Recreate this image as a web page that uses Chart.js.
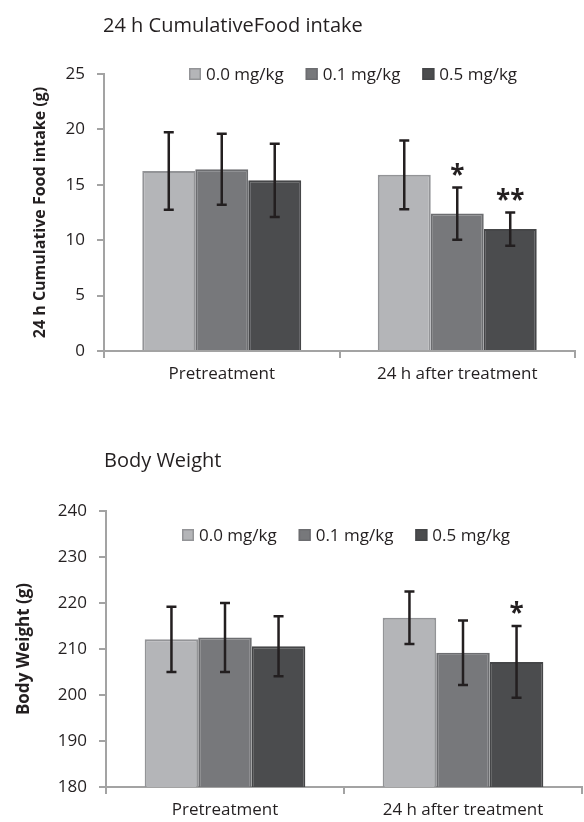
<!DOCTYPE html>
<html>
<head>
<meta charset="utf-8">
<script src="https://cdn.jsdelivr.net/npm/chart.js@4.4.1/dist/chart.umd.min.js"></script>
<style>
    body { margin: 0; background: #fff; font-family: "Open Sans", sans-serif; }
    .panel { position: absolute; left: 0; width: 584px; }
    .titulo { position: absolute; font-size: 20px; color: #231f20; white-space: nowrap; line-height: 1; }
</style>
</head>
<body>
<div class="panel" style="top:0;height:410px;"><canvas id="foodChart"></canvas></div>
<div class="titulo" style="left:103px;top:15px;">24 h CumulativeFood intake</div>
<div class="panel" style="top:410px;height:412px;"><canvas id="bwChart"></canvas></div>
<div class="titulo" style="left:104px;top:450px;">Body Weight</div>
<script>
// datos
var grupos = ['Pretreatment', '24 h after treatment'];
var dosis = ['0.0 mg/kg', '0.1 mg/kg', '0.5 mg/kg'];

var comida00 = [16.25, 15.9];
var comida01 = [16.4, 12.4];
var comida05 = [15.4, 11.0];
var comidaSd00 = [3.5, 3.1];
var comidaSd01 = [3.2, 2.35];
var comidaSd05 = [3.3, 1.5];
var comidaSig01 = ['', '*'];
var comidaSig05 = ['', '**'];
var comidaTicks = [0, 5, 10, 15, 20, 25];

var peso00 = [212.1, 216.8];
var peso01 = [212.5, 209.2];
var peso05 = [210.6, 207.2];
var pesoSd00 = [7.1, 5.7];
var pesoSd01 = [7.5, 7.0];
var pesoSd05 = [6.5, 7.8];
var pesoSig05 = ['', '*'];
var pesoTicks = [180, 190, 200, 210, 220, 230, 240];

var colores = ['#b4b5b8', '#77787b', '#4b4c4e'];
var bordes = ['#939497', '#6c6d70', '#454648'];
var gris = '#a3a3a3';
var texto = '#231f20';

// barras de error y asteriscos
var errorBars = {
    id: 'errorBars',
    afterDatasetsDraw: function (chart) {
        var ctx = chart.ctx;
        var y = chart.scales.y;
        ctx.save();
        chart.data.datasets.forEach(function (ds, i) {
            var meta = chart.getDatasetMeta(i);
            meta.data.forEach(function (bar, j) {
                var v = ds.data[j], sd = ds.sd[j];
                var top = y.getPixelForValue(v + sd);
                var bot = y.getPixelForValue(v - sd);
                ctx.strokeStyle = texto;
                ctx.lineWidth = 2.5;
                ctx.beginPath();
                ctx.moveTo(bar.x, top); ctx.lineTo(bar.x, bot);
                ctx.moveTo(bar.x - 5, top); ctx.lineTo(bar.x + 5, top);
                ctx.moveTo(bar.x - 5, bot); ctx.lineTo(bar.x + 5, bot);
                ctx.stroke();
                if (ds.sig && ds.sig[j]) {
                    ctx.fillStyle = texto;
                    ctx.font = 'bold 26px "Open Sans"';
                    ctx.textAlign = 'center';
                    ctx.textBaseline = 'middle';
                    ctx.fillText(ds.sig[j], bar.x, top - 11);
                }
            });
        });
        ctx.restore();
    }
};

// leyenda dibujada a mano para poder colocarla sobre el eje
var leyenda = {
    id: 'leyenda',
    afterDraw: function (chart, args, opts) {
        var ctx = chart.ctx;
        var x = opts.x;
        ctx.save();
        ctx.font = '17px "Open Sans"';
        ctx.textBaseline = 'middle';
        ctx.textAlign = 'left';
        chart.data.datasets.forEach(function (ds) {
            ctx.fillStyle = ds.backgroundColor;
            ctx.fillRect(x, opts.y - 6, 12, 12);
            ctx.strokeStyle = ds.borderColor;
            ctx.lineWidth = 1.5;
            ctx.strokeRect(x + 0.75, opts.y - 5.25, 10.5, 10.5);
            ctx.fillStyle = texto;
            ctx.fillText(ds.label, x + 17, opts.y + 1);
            x += 17 + ctx.measureText(ds.label).width + 22;
        });
        ctx.restore();
    }
};

function crearGrafico(id, series, sds, sigs, ticks, tituloY, cfg) {
    var datasets = series.map(function (s, i) {
        return {
            label: dosis[i],
            data: s,
            sd: sds[i],
            sig: sigs[i],
            backgroundColor: colores[i],
            borderColor: bordes[i],
            borderWidth: 2,
            borderSkipped: 'bottom',
            categoryPercentage: 0.675,
            barPercentage: 1.0
        };
    });
    return new Chart(document.getElementById(id), {
        type: 'bar',
        data: { labels: grupos, datasets: datasets },
        plugins: [errorBars, leyenda],
        options: {
            responsive: true,
            maintainAspectRatio: false,
            animation: false,
            layout: { padding: cfg.padding },
            plugins: {
                legend: { display: false },
                tooltip: { enabled: false },
                leyenda: cfg.leyenda
            },
            scales: {
                x: {
                    afterFit: function (s) { s.height = cfg.alturaX; },
                    grid: { drawOnChartArea: false, color: gris, lineWidth: 2, tickLength: 7 },
                    border: { color: gris, width: 2 },
                    ticks: { color: texto, padding: 6, font: { family: 'Open Sans', size: 17 } }
                },
                y: {
                    min: ticks[0],
                    max: ticks[ticks.length - 1],
                    afterFit: function (s) { s.width = cfg.anchoY; },
                    afterBuildTicks: function (s) {
                        s.ticks = ticks.map(function (t) { return { value: t }; });
                    },
                    grid: { drawOnChartArea: false, color: gris, lineWidth: 2, tickLength: 7 },
                    border: { color: gris, width: 2 },
                    ticks: { color: texto, padding: 12, font: { family: 'Open Sans', size: 17 } },
                    title: {
                        display: true,
                        text: tituloY,
                        color: texto,
                        font: { family: 'Open Sans', size: cfg.tamTitulo, weight: 'bold' }
                    }
                }
            }
        }
    });
}

crearGrafico('foodChart',
    [comida00, comida01, comida05],
    [comidaSd00, comidaSd01, comidaSd05],
    [null, comidaSig01, comidaSig05],
    comidaTicks, '24 h Cumulative Food intake (g)',
    { padding: { left: 27, top: 74, right: 9, bottom: 0 }, anchoY: 77, alturaX: 59, tamTitulo: 16,
      leyenda: { x: 189, y: 74 } });

crearGrafico('bwChart',
    [peso00, peso01, peso05],
    [pesoSd00, pesoSd01, pesoSd05],
    [null, null, pesoSig05],
    pesoTicks, 'Body Weight (g)',
    { padding: { left: 10, top: 101, right: 2, bottom: 0 }, anchoY: 96, alturaX: 35, tamTitulo: 17,
      leyenda: { x: 182, y: 125 } });
</script>
</body>
</html>
